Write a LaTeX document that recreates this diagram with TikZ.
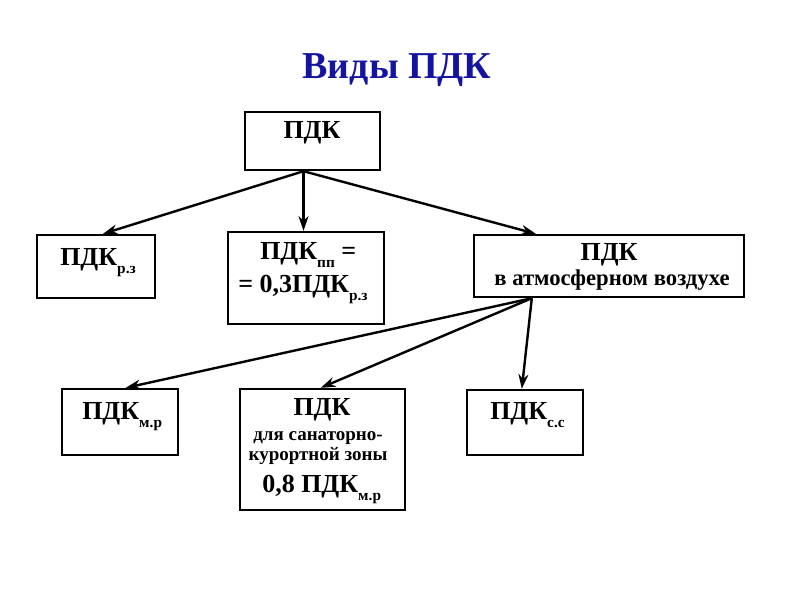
\documentclass[tikz,border=0pt]{standalone}
\usepackage{fontspec}
\setmainfont{Liberation Serif}
\usetikzlibrary{fit,arrows.meta,calc}
\definecolor{titleblue}{RGB}{20,20,160}
\newcommand{\subtx}[1]{\raisebox{-6pt}{\fontsize{11.5}{13}\selectfont #1}}
\begin{document}
\begin{tikzpicture}[x=0.75pt,y=-0.75pt,
  box/.style={draw,line width=1.8pt,inner sep=0pt},
  big/.style={font=\bfseries\fontsize{19.5}{22}\selectfont, inner sep=0pt},
  mid/.style={font=\bfseries\fontsize{17}{19}\selectfont, inner sep=0pt},
  small/.style={font=\bfseries\fontsize{14.25}{16}\selectfont, inner sep=0pt},
  arr/.style={line width=1.8pt,-{Stealth[length=11pt,width=7.5pt]}}]
\useasboundingbox (0,0) rectangle (800,600);
% title
\node[font=\bfseries\fontsize{28.5}{32}\selectfont, text=titleblue, anchor=base, inner sep=0pt] (title) at (397,78) {Виды ПДК};
% boxes
\node[box, fit={(245,112)(380,170)}] (top) {};
\node[box, fit={(37,235)(155,298)}] (rz) {};
\node[box, fit={(228,232)(384,324)}] (pp) {};
\node[box, fit={(474,235)(744,297)}] (atm) {};
\node[box, fit={(62,389)(178,455)}] (mr) {};
\node[box, fit={(240,389)(405,510)}] (san) {};
\node[box, fit={(467,390)(583,455)}] (ss) {};
% texts
\node[big, anchor=base] (ttop) at (312,138) {ПДК};
\node[big, anchor=base west] (trz) at (60,265) {ПДК\subtx{р.з}};
\node[big, anchor=base west] (tpp1) at (260,259) {ПДК\subtx{пп} =};
\node[big, anchor=base west] (tpp2) at (238,292) {= 0,3ПДК\subtx{р.з}};
\node[big, anchor=base] (tatm1) at (609,260) {ПДК};
\node[mid, anchor=base] (tatm2) at (612,285) {в атмосферном воздухе};
\node[big, anchor=base west] (tmr) at (82,419) {ПДК\subtx{м.р}};
\node[big, anchor=base west] (tss) at (490,419) {ПДК\subtx{с.с}};
\node[big, anchor=base] (tsan1) at (322,415) {ПДК};
\node[small, anchor=base] (tsan2) at (318,440) {для санаторно-};
\node[small, anchor=base] (tsan3) at (318,460) {курортной зоны};
\node[big, anchor=base west] (tsan4) at (262,492) {0,8 ПДК\subtx{м.р}};
% connectors
\coordinate (s1) at ($(top.south)+(-9,0)$);
\draw[arr] (s1) -- ($(rz.north)+(7,0)$);
\draw[arr] (s1) -- (s1 |- pp.north);
\draw[arr] (s1) -- ($(atm.north west)+(63,0)$);
\coordinate (s2) at ($(atm.south west)+(59,0)$);
\draw[arr] (s2) -- ($(mr.north west)+(65,0)$);
\draw[arr] (s2) -- ($(san.north west)+(82,0)$);
\draw[arr] (s2) -- ($(ss.north west)+(56,0)$);
\end{tikzpicture}
\end{document}
